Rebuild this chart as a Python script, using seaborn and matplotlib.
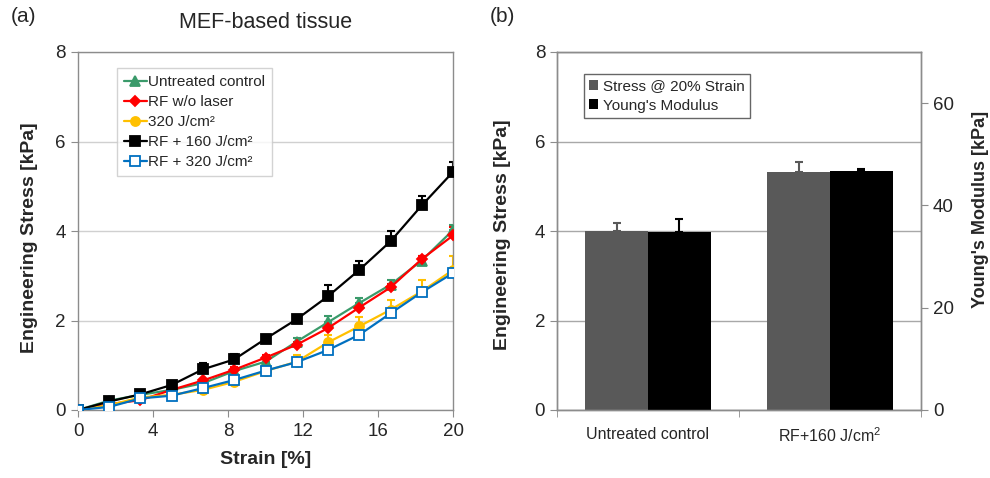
import numpy as np
import pandas as pd
import matplotlib
matplotlib.use("Agg")
import matplotlib.pyplot as plt
import seaborn as sns
from matplotlib.patches import Patch
from matplotlib.lines import Line2D

# ---------------- data ----------------
strain = [0, 1.67, 3.33, 5, 6.67, 8.33, 10, 11.67, 13.33, 15, 16.67, 18.33, 20]

untreated = [0, 0.21, 0.34, 0.45, 0.60, 0.87, 1.08, 1.53, 1.96, 2.39, 2.80, 3.34, 4.02]
untreated_err = [0, 0.03, 0.03, 0.04, 0.05, 0.06, 0.08, 0.08, 0.13, 0.12, 0.10, 0.10, 0.12]

rf_wo = [0, 0.13, 0.22, 0.45, 0.66, 0.90, 1.17, 1.46, 1.83, 2.29, 2.74, 3.37, 3.90]
rf_wo_err = [0, 0.02, 0.03, 0.04, 0.04, 0.05, 0.05, 0.05, 0.06, 0.06, 0.07, 0.07, 0.20]

j320 = [0, 0.11, 0.28, 0.34, 0.45, 0.63, 0.87, 1.08, 1.51, 1.87, 2.24, 2.65, 3.13]
j320_err = [0, 0.03, 0.03, 0.04, 0.05, 0.06, 0.10, 0.16, 0.17, 0.20, 0.22, 0.26, 0.31]

rf160 = [0, 0.19, 0.35, 0.56, 0.91, 1.13, 1.59, 2.03, 2.54, 3.13, 3.77, 4.57, 5.32]
rf160_err = [0, 0.05, 0.04, 0.05, 0.13, 0.12, 0.09, 0.05, 0.26, 0.19, 0.22, 0.22, 0.22]

rf320 = [0, 0.07, 0.26, 0.32, 0.49, 0.67, 0.88, 1.07, 1.34, 1.68, 2.16, 2.63, 3.06]
rf320_err = [0, 0.02, 0.02, 0.03, 0.03, 0.03, 0.03, 0.03, 0.04, 0.04, 0.05, 0.05, 0.06]

series_names = ["Untreated control", "RF w/o laser", "320 J/cm\u00b2",
                "RF + 160 J/cm\u00b2", "RF + 320 J/cm\u00b2"]

groups = ["Untreated control", "RF+160 J/cm$^{2}$"]
stress20 = [3.99, 5.31]
stress20_err = [0.18, 0.23]
modulus = [34.8, 46.7]
modulus_err = [2.5, 0.5]

# ---------------- style ----------------
sns.set_style("white")
plt.rcParams['font.family'] = ['Liberation Sans', 'DejaVu Sans']
plt.rcParams['mathtext.default'] = 'regular'

fig = plt.figure(figsize=(9.9, 4.78), dpi=100)
axA = fig.add_axes([78/990, 68/478, 375/990, 358/478])
axB = fig.add_axes([557/990, 68/478, 364/990, 358/478])

spine_col = "#8c8c8c"
tick_fs = 13.5
lab_fs = 14

# ---------------- panel (a) ----------------
styles = [
    dict(color="#3A9A6A", marker="^", mfc="#3A9A6A", ms=7),
    dict(color="#FF0000", marker="D", mfc="#FF0000", ms=5.5),
    dict(color="#FFC000", marker="o", mfc="#FFC000", ms=6.5),
    dict(color="#000000", marker="s", mfc="#000000", ms=7),
    dict(color="#0070C0", marker="s", mfc="white", ms=6.5),
]
vals = [untreated, rf_wo, j320, rf160, rf320]
errs = [untreated_err, rf_wo_err, j320_err, rf160_err, rf320_err]

handles = []
for name, v, e, st in zip(series_names, vals, errs, styles):
    axA.errorbar(strain, v, yerr=[np.zeros(len(e)), e], fmt="none",
                 ecolor=st["color"], elinewidth=1.5, capsize=3, capthick=1.5, zorder=2)
    sns.lineplot(x=strain, y=v, ax=axA, color=st["color"], marker=st["marker"],
                 markersize=st["ms"], markerfacecolor=st["mfc"],
                 markeredgecolor=st["color"], markeredgewidth=1.3,
                 linewidth=1.6, zorder=3, legend=False)
    handles.append(Line2D([], [], color=st["color"], marker=st["marker"],
                          markersize=st["ms"], markerfacecolor=st["mfc"],
                          markeredgecolor=st["color"], markeredgewidth=1.3, linewidth=1.6))

axA.set_xlim(0, 20)
axA.set_ylim(0, 8)
axA.set_xticks([0, 4, 8, 12, 16, 20])
axA.set_yticks([0, 2, 4, 6, 8])
axA.yaxis.grid(True, color="#d0d0d0", linewidth=1)
axA.set_axisbelow(True)
for s in axA.spines.values():
    s.set_color(spine_col)
    s.set_linewidth(1)
axA.tick_params(axis="both", direction="out", length=5, color=spine_col,
                labelsize=tick_fs, pad=4, bottom=True, left=True)
axA.set_xlabel("Strain [%]", fontsize=lab_fs, fontweight="bold", labelpad=8)
axA.set_ylabel("Engineering Stress [kPa]", fontsize=lab_fs, fontweight="bold")
axA.yaxis.set_label_coords(-0.106, 0.48)
axA.set_title("MEF-based tissue", fontsize=15.5, pad=17)

legA = axA.legend(handles, series_names, loc="upper left",
                  bbox_to_anchor=(0.104, 0.955), fontsize=11, frameon=True,
                  fancybox=False, edgecolor="#c8c8c8", handlelength=1.5,
                  handletextpad=0.1, borderpad=0.45, labelspacing=0.4, borderaxespad=0)
legA.get_frame().set_linewidth(1)

# ---------------- panel (b) ----------------
measures = ["Stress @ 20% Strain", "Young's Modulus"]
bar_cols = {"Stress @ 20% Strain": "#595959", "Young's Modulus": "#000000"}
df_s = pd.DataFrame({"group": groups, "measure": measures[0], "value": stress20})
df_m = pd.DataFrame({"group": groups, "measure": measures[1], "value": modulus})

axB2 = axB.twinx()
sns.barplot(data=df_s, x="group", y="value", hue="measure", hue_order=measures,
            order=groups, palette=bar_cols, width=0.69, gap=0, dodge=True, errorbar=None,
            ax=axB, legend=False, zorder=2, edgecolor="none")
sns.barplot(data=df_m, x="group", y="value", hue="measure", hue_order=measures,
            order=groups, palette=bar_cols, width=0.69, gap=0, dodge=True, errorbar=None,
            ax=axB2, legend=False, zorder=2, edgecolor="none")

def add_err(ax, err, col):
    bars = [p for p in ax.patches if np.isfinite(p.get_height()) and p.get_height() > 0]
    bars = sorted(bars, key=lambda p: p.get_x())
    for p, e in zip(bars, err):
        xc = p.get_x() + p.get_width() / 2
        ax.errorbar([xc], [p.get_height()], yerr=[[0], [e]], fmt="none",
                    ecolor=col, elinewidth=1.5, capsize=3, capthick=1.5, zorder=3)

add_err(axB, stress20_err, "#595959")
add_err(axB2, modulus_err, "#000000")

axB.set_xlim(-0.5, 1.5)
axB.set_ylim(0, 8)
axB2.set_ylim(0, 70)
axB.set_yticks([0, 2, 4, 6, 8])
axB2.set_yticks([0, 20, 40, 60])
axB.yaxis.grid(True, color="#a8a8a8", linewidth=1)
axB.set_axisbelow(True)
axB.set_xticks([0, 1])
axB.set_xticklabels(groups)
axB.set_xticks([-0.5, 0.5, 1.5], minor=True)
axB.tick_params(axis="x", which="major", length=0, labelsize=11.5, pad=12)
axB.tick_params(axis="x", which="minor", length=5, color=spine_col, direction="out", bottom=True)
axB.tick_params(axis="y", direction="out", length=5, color=spine_col, labelsize=tick_fs, left=True)
axB2.tick_params(axis="y", direction="out", length=5, color=spine_col, labelsize=tick_fs, right=True)
for ax in (axB, axB2):
    for s in ax.spines.values():
        s.set_color(spine_col)
        s.set_linewidth(1)
axB.set_xlabel("")
axB.set_ylabel("Engineering Stress [kPa]", fontsize=lab_fs, fontweight="bold")
axB.yaxis.set_label_coords(-0.126, 0.49)
axB2.set_ylabel("Young's Modulus [kPa]", fontsize=13, fontweight="bold")
axB2.yaxis.set_label_coords(1.141, 0.559)

legB_handles = [Patch(facecolor=bar_cols[m], edgecolor="none") for m in measures]
legB = axB.legend(legB_handles, measures, loc="upper left",
                  bbox_to_anchor=(0.074, 0.9385), fontsize=11, frameon=True,
                  fancybox=False, edgecolor="#404040", handlelength=0.6,
                  handleheight=0.6, handletextpad=0.3, borderpad=0.35,
                  labelspacing=0.35, borderaxespad=0)
legB.get_frame().set_linewidth(1)
legB.set_zorder(10)

fig.text(23/990, 1 - 17/478, "(a)", fontsize=15, ha="center", va="center")
fig.text(502/990, 1 - 16/478, "(b)", fontsize=15, ha="center", va="center")

fig.savefig("out.png", dpi=100)
